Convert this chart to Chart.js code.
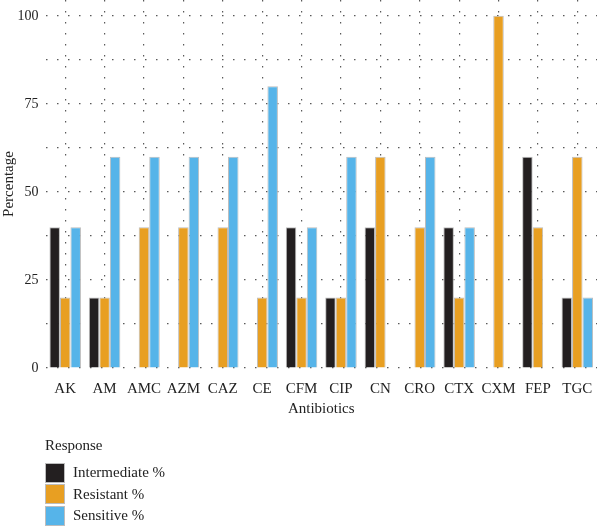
<!DOCTYPE html>
<html>
<head>
<meta charset="utf-8">
<script src="https://cdn.jsdelivr.net/npm/chart.js@4.4.1/dist/chart.umd.min.js"></script>
<style>
  body { margin: 0; background: #fff; }
  #wrap { position: relative; width: 600px; height: 527px; }
  #leyenda { position: absolute; left: 45px; top: 437px; font-family: "Liberation Serif", serif; font-size: 15px; color: #222; }
  #leyenda .titulo { margin-bottom: 8px; }
  #leyenda .item { display: flex; align-items: center; height: 21.5px; }
  #leyenda .caja { width: 18px; height: 18px; border: 1px solid #bdbdbd; margin-right: 8px; }
</style>
</head>
<body>
<div id="wrap">
  <canvas id="chartAntibioticos" width="600" height="527"></canvas>
  <div id="leyenda"></div>
</div>
<script>
const antibioticos = ['AK', 'AM', 'AMC', 'AZM', 'CAZ', 'CE', 'CFM', 'CIP', 'CN', 'CRO', 'CTX', 'CXM', 'FEP', 'TGC'];
const intermedio = [40, 20, null, null, null, null, 40, 20, 40, null, 40, null, 60, 20];
const resistente = [20, 20, 40, 40, 40, 20, 20, 20, 60, 40, 20, 100, 40, 60];
const sensible = [40, 60, 60, 60, 60, 80, 40, 60, null, 60, 40, null, null, 20];
const ticksY = [0, 12.5, 25, 37.5, 50, 62.5, 75, 87.5, 100];

const fuente = 'Liberation Serif';
const gridColor = 'rgba(60,60,60,0.85)';

const contexto = document.getElementById('chartAntibioticos').getContext('2d');

const chartAntibioticos = new Chart(contexto, {
    type: 'bar',
    data: {
        labels: antibioticos,
        datasets: [
            { label: 'Intermediate %', data: intermedio, backgroundColor: '#231f20' },
            { label: 'Resistant %', data: resistente, backgroundColor: '#e89f22' },
            { label: 'Sensitive %', data: sensible, backgroundColor: '#56b4e9' }
        ]
    },
    options: {
        responsive: false,
        animation: false,
        categoryPercentage: 0.8,
        barPercentage: 1.0,
        borderColor: '#bdbdbd',
        borderWidth: 1,
        layout: {
            padding: { left: 0, right: 3, top: 0, bottom: 109 }
        },
        plugins: {
            legend: { display: false },
            tooltip: { enabled: false }
        },
        scales: {
            x: {
                grid: { offset: false, color: gridColor, lineWidth: 1.2, drawTicks: false },
                border: { display: false, dash: [1.5, 9.5] },
                ticks: {
                    color: '#222',
                    padding: 12,
                    maxRotation: 0,
                    minRotation: 0,
                    autoSkip: false,
                    font: { family: fuente, size: 15 }
                },
                title: { display: true, text: 'Antibiotics', color: '#222', padding: 0, font: { family: fuente, size: 15 } },
                afterFit: (escala) => {
                    escala.height = 50;
                    escala.paddingLeft = 0;
                    escala.paddingRight = 0;
                }
            },
            y: {
                min: 0,
                max: 104.5,
                grid: { color: gridColor, lineWidth: 1.2, drawTicks: false },
                border: { display: false, dash: [1.5, 9.5] },
                ticks: {
                    color: '#222',
                    padding: 7,
                    font: { family: fuente, size: 14 },
                    callback: (valor) => (valor % 25 === 0 ? valor : '')
                },
                afterBuildTicks: (escala) => { escala.ticks = ticksY.map(v => ({ value: v })); },
                title: { display: true, text: 'Percentage', color: '#222', padding: 0, font: { family: fuente, size: 15 } },
                afterFit: (escala) => {
                    escala.width = 45.5;
                    escala.paddingTop = 0;
                    escala.paddingBottom = 0;
                }
            }
        }
    }
});

// leyenda en html
const leyenda = document.getElementById('leyenda');
leyenda.innerHTML = '<div class="titulo">Response</div>' +
    chartAntibioticos.data.datasets.map(ds =>
        `<div class="item"><span class="caja" style="background:${ds.backgroundColor}"></span>${ds.label}</div>`
    ).join('');
</script>
</body>
</html>
